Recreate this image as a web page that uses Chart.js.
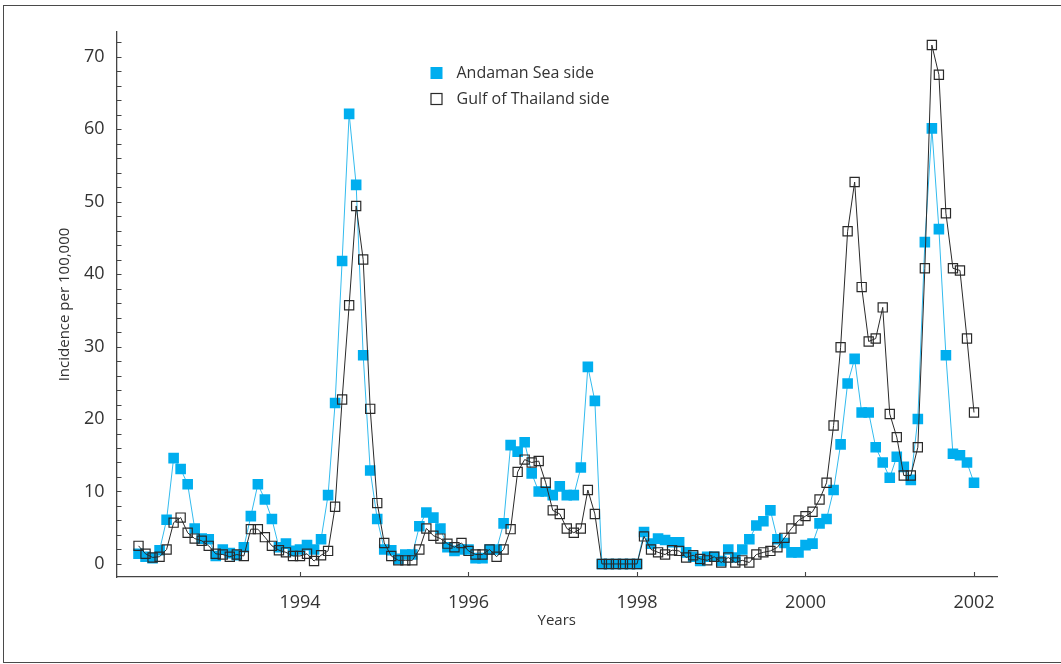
<!DOCTYPE html>
<html>
<head>
<meta charset="utf-8">
<script src="https://cdn.jsdelivr.net/npm/chart.js@4.4.1/dist/chart.umd.min.js"></script>
<style>
html, body { margin: 0; padding: 0; background: #fff; }
#wrap { position: relative; width: 1061px; height: 664px; overflow: hidden; }
#frame { position: absolute; left: 3px; top: 5px; width: 1100px; height: 658px; border: 1.5px solid #4a4a4a; box-sizing: border-box; }
#c { position: absolute; left: 0; top: 0; }
</style>
</head>
<body>
<div id="wrap">
  <div id="frame"></div>
  <canvas id="c" width="1061" height="664"></canvas>
</div>
<script>
// ---- data (monthly, Jan 1992 – Dec 2001) ----
const startYear = 1992;
const seriesNames = ['Andaman Sea side', 'Gulf of Thailand side'];
const andaman = [
  1.4, 1.0, 0.8, 1.9, 6.1, 14.6, 13.1, 11.0, 4.9, 3.5, 3.4, 1.1,
  2.0, 1.5, 1.2, 2.3, 6.6, 11.0, 8.9, 6.2, 2.3, 2.8, 1.8, 2.0,
  2.6, 2.0, 3.4, 9.5, 22.2, 41.8, 62.1, 52.3, 28.8, 12.9, 6.2, 2.0,
  1.9, 0.7, 1.3, 1.3, 5.2, 7.1, 6.4, 4.9, 2.3, 1.8, 2.0, 2.0,
  0.8, 0.8, 2.0, 2.0, 5.6, 16.4, 15.5, 16.8, 12.5, 10.0, 10.0, 9.5,
  10.7, 9.5, 9.5, 13.3, 27.2, 22.5, 0, 0, 0, 0, 0, 0,
  4.4, 2.8, 3.5, 3.3, 3.0, 3.0, 1.6, 1.0, 0.4, 1.0, 1.0, 0.4,
  2.0, 0.9, 2.0, 3.4, 5.3, 5.9, 7.4, 3.4, 2.9, 1.6, 1.6, 2.6,
  2.8, 5.6, 6.2, 10.2, 16.5, 24.9, 28.3, 20.9, 20.9, 16.1, 14.0, 11.9,
  14.8, 13.4, 11.6, 20.0, 44.4, 60.1, 46.2, 28.8, 15.2, 15.0, 14.0, 11.2
];
const gulf = [
  2.5, 1.4, 0.9, 1.0, 2.0, 5.7, 6.4, 4.3, 3.5, 3.2, 2.5, 1.4,
  1.3, 1.0, 1.3, 1.1, 4.8, 4.8, 3.7, 2.5, 1.9, 1.6, 1.1, 1.1,
  1.4, 0.4, 1.2, 1.8, 7.9, 22.7, 35.7, 49.4, 42.0, 21.4, 8.4, 2.9,
  1.1, 0.5, 0.5, 0.5, 2.0, 4.9, 3.9, 3.5, 2.8, 2.3, 2.9, 1.8,
  1.3, 1.3, 2.0, 1.0, 2.0, 4.8, 12.7, 14.4, 14.0, 14.2, 11.2, 7.4,
  6.9, 4.9, 4.3, 4.9, 10.2, 6.9, 0, 0, 0, 0, 0, 0,
  3.8, 2.0, 1.6, 1.3, 1.9, 1.8, 0.9, 1.2, 0.7, 0.5, 1.0, 0.2,
  0.9, 0.2, 0.5, 0.2, 1.3, 1.6, 1.8, 2.3, 3.6, 4.9, 6.0, 6.6,
  7.2, 8.9, 11.2, 19.1, 29.9, 45.9, 52.7, 38.2, 30.7, 31.1, 35.4, 20.7,
  17.5, 12.2, 12.2, 16.1, 40.8, 71.6, 67.5, 48.4, 40.8, 40.5, 31.1, 20.9
];
const yearTicks = [1994, 1996, 1998, 2000, 2002];
const xTitle = 'Years';
const yTitle = 'Incidence per 100,000';

// ---- build points: month i plotted at startYear + (i+1)/12 ----
const toPoints = arr => arr.map((v, i) => ({ x: startYear + (i + 1) / 12, y: v }));

const FONT = "'Open Sans', 'DejaVu Sans', sans-serif";
const TEXT = '#333';
const AXIS = '#444';
const BLUE = '#00AEEF';
const DARK = '#2a2a2a';

const tickMarks = {
  id: 'tickMarks',
  beforeDatasetsDraw(chart) {
    const { ctx, chartArea: a, scales: { x, y } } = chart;
    ctx.save();
    ctx.strokeStyle = AXIS;
    ctx.lineWidth = 1.1;
    ctx.beginPath();
    y.ticks.forEach(t => {
      const py = Math.round(y.getPixelForValue(t.value)) + 0.5;
      ctx.moveTo(a.left, py); ctx.lineTo(a.left + 5, py);
    });
    x.ticks.forEach(t => {
      const px = Math.round(x.getPixelForValue(t.value)) + 0.5;
      ctx.moveTo(px, a.bottom); ctx.lineTo(px, a.bottom - 5);
    });
    ctx.stroke();
    ctx.restore();
  }
};

const innerLegend = {
  id: 'innerLegend',
  afterDraw(chart) {
    const { ctx, chartArea: a } = chart;
    const ds = chart.data.datasets;
    const x0 = a.left + 320, y0 = a.top + 41, gap = 26, half = 6;
    ctx.save();
    ctx.font = "16px " + FONT;
    ctx.textBaseline = 'middle';
    ctx.textAlign = 'left';
    ds.forEach((d, i) => {
      const cy = y0 + i * gap;
      if (d.legendFill) {
        ctx.fillStyle = d.pointBackgroundColor;
        ctx.fillRect(x0 - half, cy - half, half * 2, half * 2);
      } else {
        ctx.strokeStyle = d.pointBorderColor;
        ctx.lineWidth = 1.2;
        ctx.strokeRect(x0 - half + 0.5, cy - half + 0.5, half * 2 - 1, half * 2 - 1);
      }
      ctx.fillStyle = TEXT;
      ctx.fillText(d.label, x0 + 20, cy);
    });
    ctx.restore();
  }
};

new Chart(document.getElementById('c'), {
  type: 'line',
  data: {
    datasets: [
      {
        label: seriesNames[0],
        data: toPoints(andaman),
        borderColor: '#33bbee',
        borderWidth: 1,
        pointStyle: 'rect',
        pointRadius: 7.5,
        pointBackgroundColor: BLUE,
        pointBorderColor: BLUE,
        pointBorderWidth: 0,
        tension: 0,
        order: 1,
        legendFill: true
      },
      {
        label: seriesNames[1],
        data: toPoints(gulf),
        borderColor: DARK,
        borderWidth: 1,
        pointStyle: 'rect',
        pointRadius: 6.5,
        pointBackgroundColor: 'rgba(255,255,255,0)',
        pointBorderColor: DARK,
        pointBorderWidth: 1.2,
        tension: 0,
        order: 0,
        legendFill: false
      }
    ]
  },
  options: {
    responsive: false,
    animation: false,
    devicePixelRatio: 1,
    layout: { padding: { left: 0, top: 32, right: 64, bottom: 0 } },
    plugins: { legend: { display: false }, tooltip: { enabled: false } },
    elements: { line: { fill: false } },
    scales: {
      x: {
        type: 'linear',
        min: 1991.822,
        max: 2002.273,
        afterFit: s => { s.height = 87; },
        afterBuildTicks: s => { s.ticks = yearTicks.map(v => ({ value: v })); },
        ticks: {
          autoSkip: false, maxRotation: 0, padding: 15,
          font: { family: FONT, size: 18 }, color: TEXT,
          callback: v => String(v)
        },
        grid: { display: false, drawTicks: false },
        border: { display: true, color: AXIS, width: 1.3 },
        title: { display: true, text: xTitle, color: TEXT, font: { family: FONT, size: 15 }, padding: { top: 0, bottom: 34 } }
      },
      y: {
        type: 'linear',
        min: -1.8,
        max: 73.4,
        afterFit: s => { s.width = 116.5; },
        ticks: {
          stepSize: 2, includeBounds: false, autoSkip: false, padding: 12,
          font: { family: FONT, size: 18 }, color: TEXT,
          callback: v => (Math.round(v) % 10 === 0 ? String(v) : '')
        },
        grid: { display: false, drawTicks: false },
        border: { display: true, color: AXIS, width: 1.3 },
        title: { display: true, text: yTitle, color: TEXT, font: { family: FONT, size: 15 }, padding: { top: 56, bottom: 0 } }
      }
    }
  },
  plugins: [tickMarks, innerLegend]
});
</script>
</body>
</html>
